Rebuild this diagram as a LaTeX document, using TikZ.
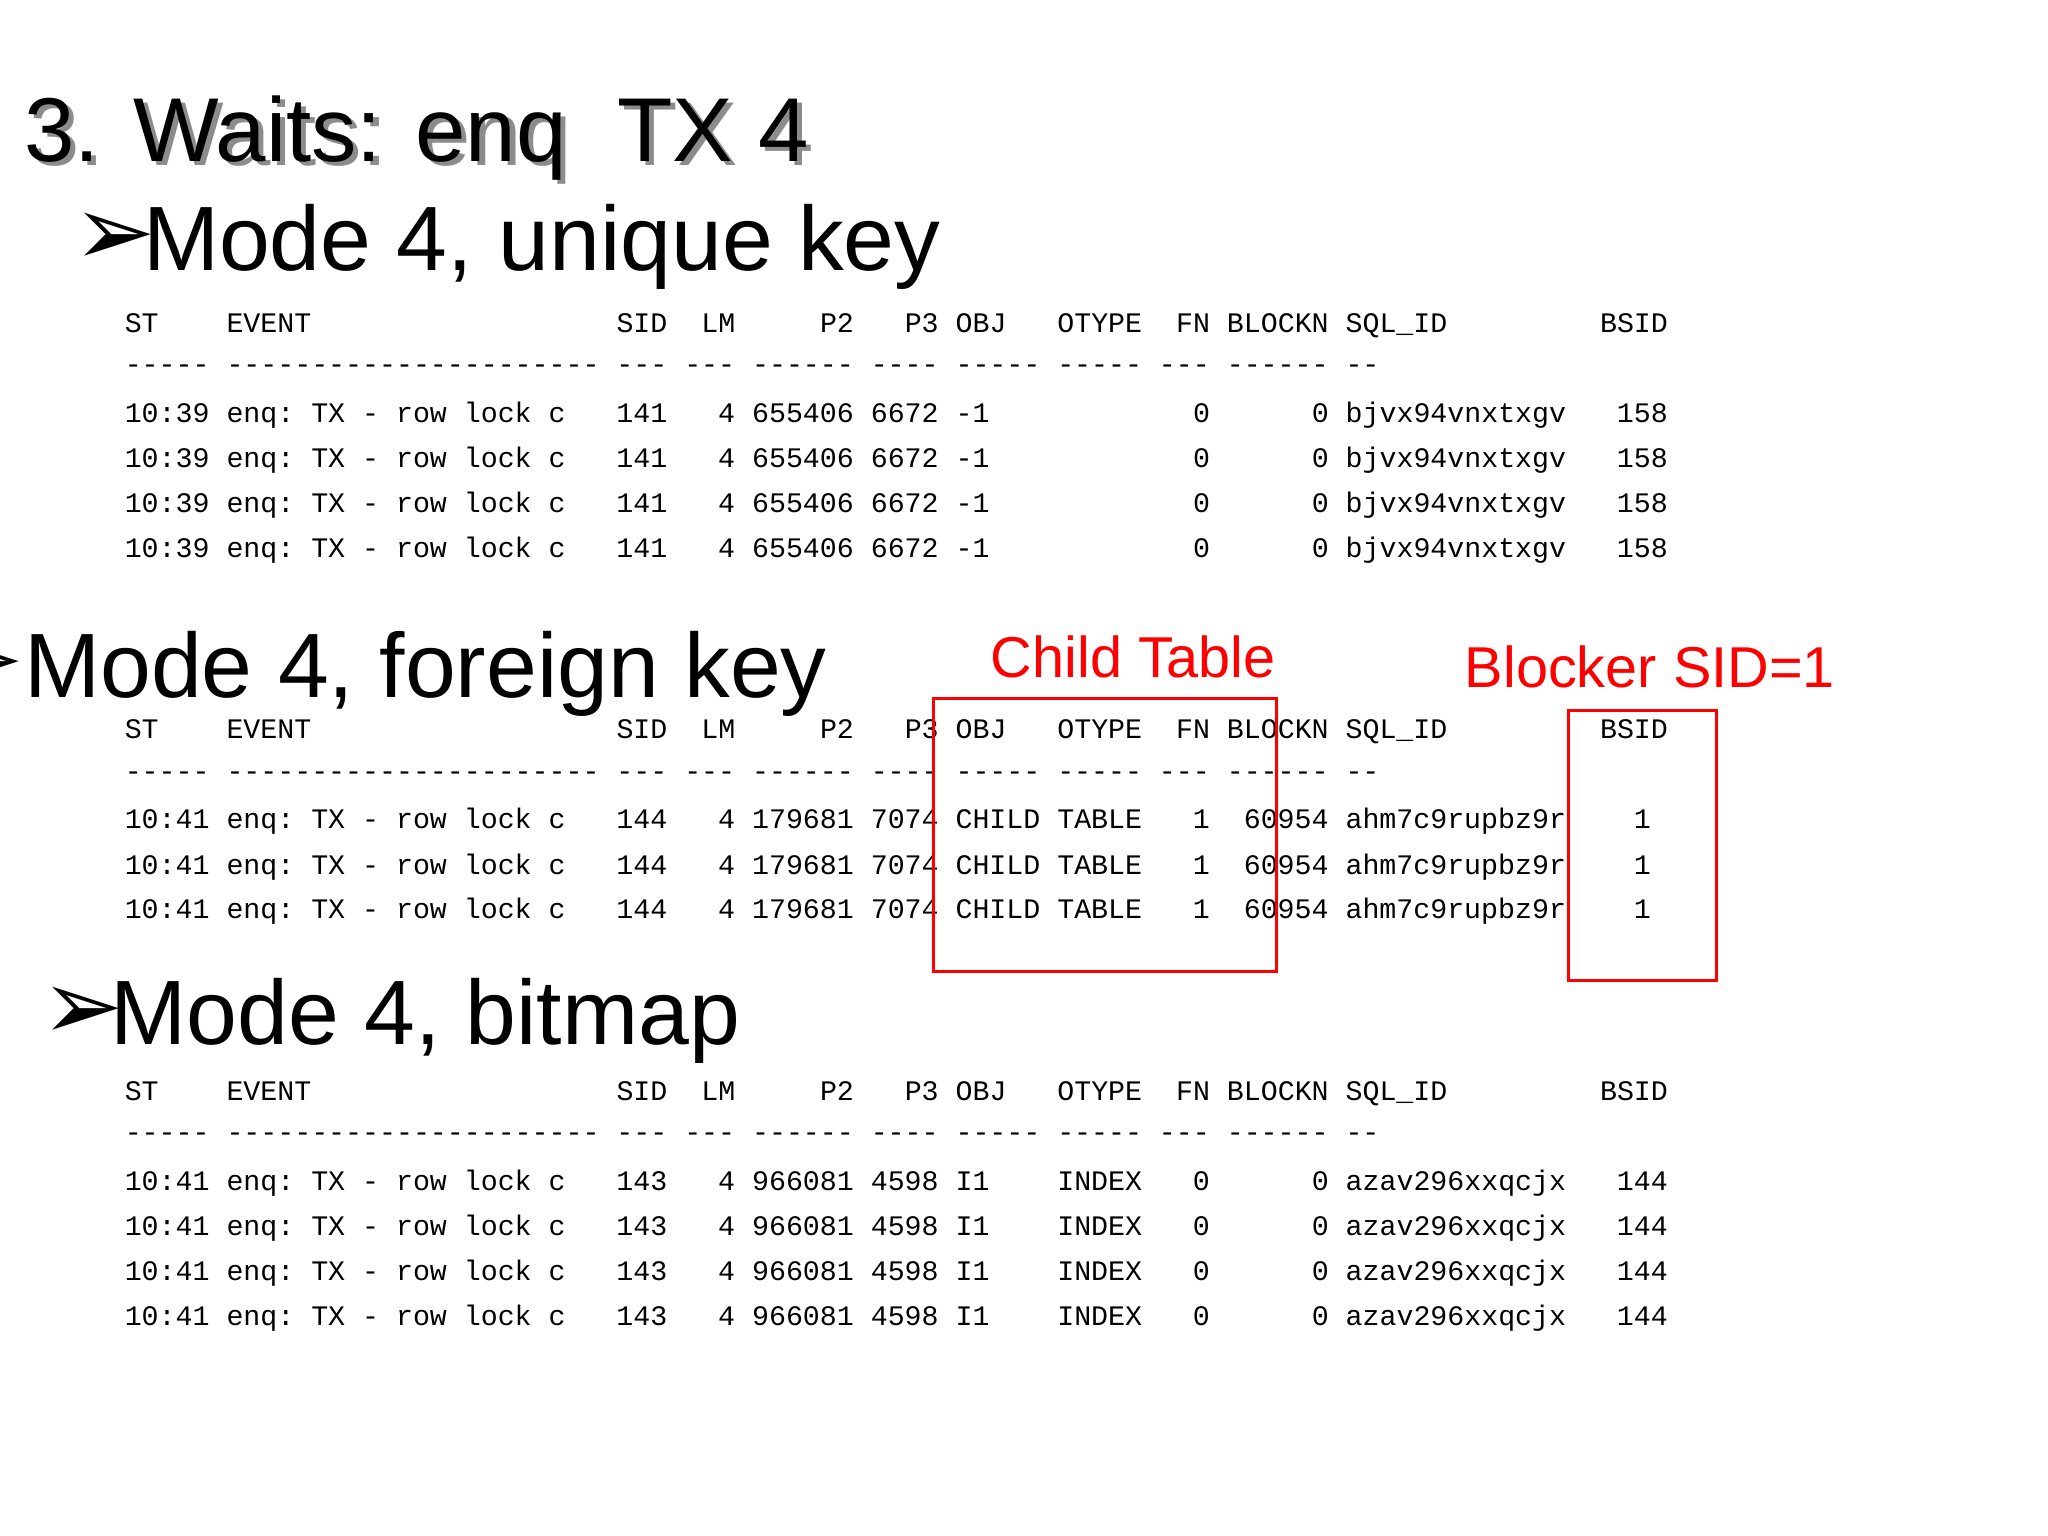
\documentclass[tikz,border=0pt]{standalone}
\usepackage{fontspec}
\setmainfont{Liberation Sans}
\setmonofont{Liberation Mono}
\newfontfamily\djv{DejaVu Sans}
\begin{document}
\begin{tikzpicture}[x=0.013061cm,y=-0.013061cm,
  row/.style={anchor=west,inner sep=0,font=\fontsize{8.04}{9}\ttfamily},
  head/.style={anchor=base west,inner sep=0,font=\fontsize{26}{30}\selectfont},
  arr/.style={anchor=base west,inner sep=0,font=\fontsize{28}{32}\selectfont},
  lbl/.style={anchor=base west,inner sep=0,text=red,font=\fontsize{16.4}{20}\selectfont},
  redbox/.style={draw=red,line width=0.9pt}]
\useasboundingbox (0,0) rectangle (1568,1176);
% title
\node[anchor=base west,inner sep=0,text=black!45,font=\fontsize{25.8}{32}\selectfont] (tsh) at (22,127) {3. Waits: enq\ \ TX 4};
\node[anchor=base west,inner sep=0,font=\fontsize{25.8}{32}\selectfont] (title) at (18,124) {3. Waits: enq\ \ TX 4};
% headings
\node[arr] (a1) at (56,203) {\djv ➢};
\node[head] (h1) at (109,207) {Mode 4, unique key};
\node[arr] (a2) at (-45,530) {\djv ➢};
\node[head] (h2) at (18,534) {Mode 4, foreign key};
\node[arr] (a3) at (31,796) {\djv ➢};
\node[head] (h3) at (84,800) {Mode 4, bitmap};
% table 1
\node[row] (t1h) at (95,249) {ST~~~~EVENT~~~~~~~~~~~~~~~~~~SID~~LM~~~~~P2~~~P3~OBJ~~~OTYPE~~FN~BLOCKN~SQL\_ID~~~~~~~~~BSID};
\node[row] (t1d) at (95,283) {-----~----------------------~---~---~------~----~-----~-----~---~------~--};
\foreach \y [count=\i] in {318,352,387,421}
  \node[row] (t1r\i) at (95,\y) {10:39~enq:~TX~-~row~lock~c~~~141~~~4~655406~6672~-1~~~~~~~~~~~~0~~~~~~0~bjvx94vnxtxgv~~~158};
% table 2
\node[row] (t2h) at (95,560) {ST~~~~EVENT~~~~~~~~~~~~~~~~~~SID~~LM~~~~~P2~~~P3~OBJ~~~OTYPE~~FN~BLOCKN~SQL\_ID~~~~~~~~~BSID};
\node[row] (t2d) at (95,594) {-----~----------------------~---~---~------~----~-----~-----~---~------~--};
\foreach \y [count=\i] in {629,664,698}
  \node[row] (t2r\i) at (95,\y) {10:41~enq:~TX~-~row~lock~c~~~144~~~4~179681~7074~CHILD~TABLE~~~1~~60954~ahm7c9rupbz9r~~~~1};
% table 3
\node[row] (t3h) at (95,837) {ST~~~~EVENT~~~~~~~~~~~~~~~~~~SID~~LM~~~~~P2~~~P3~OBJ~~~OTYPE~~FN~BLOCKN~SQL\_ID~~~~~~~~~BSID};
\node[row] (t3d) at (95,871) {-----~----------------------~---~---~------~----~-----~-----~---~------~--};
\foreach \y [count=\i] in {906,940,975,1009}
  \node[row] (t3r\i) at (95,\y) {10:41~enq:~TX~-~row~lock~c~~~143~~~4~966081~4598~I1~~~~INDEX~~~0~~~~~~0~azav296xxqcjx~~~144};
% red annotations
\node[lbl] (l1) at (758,519) {Child Table};
\node[lbl] (l2) at (1121,526) {Blocker SID=1};
\draw[redbox] (715,535) rectangle (977,744);
\draw[redbox] (1201,544) rectangle (1314,751);
\end{tikzpicture}
\end{document}
